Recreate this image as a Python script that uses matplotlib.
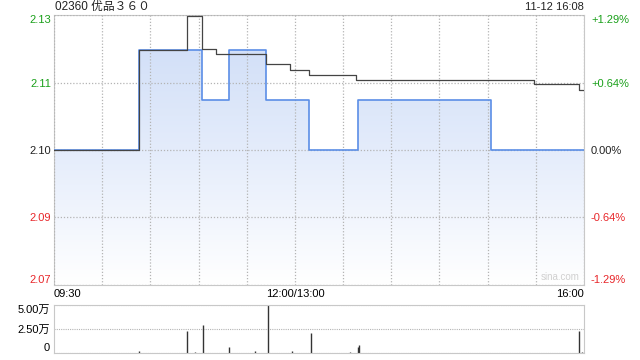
import numpy as np
import matplotlib
matplotlib.use("Agg")
import matplotlib.pyplot as plt
from matplotlib.colors import LinearSegmentedColormap

plt.rcParams['font.family'] = ['Liberation Sans', 'Noto Sans CJK SC', 'DejaVu Sans']

# minutes since 09:30 (lunch break removed), 330 = 16:00
prev_close = 2.10
price_times = [0, 53, 92, 109, 132, 159, 189, 272, 330]
price_vals = [2.10, 2.12, 2.11, 2.12, 2.11, 2.10, 2.11, 2.10, 2.10]
avg_times = [0, 53, 83, 92, 101, 132, 147, 159, 188, 299, 327, 330]
avg_vals = [2.10, 2.1201, 2.1269, 2.1202, 2.1192, 2.1172, 2.1160, 2.1151, 2.1140, 2.1132, 2.1120, 2.1120]
vol_times = [53, 83, 88, 93, 109, 125, 133, 148, 160, 184, 189, 190, 327, 329]
vol_vals = [2000, 22900, 1000, 29500, 6600, 2400, 50000, 2000, 21000, 1000, 6600, 8700, 22900, 1000]

pct_ticks = [-1.29, -0.64, 0.0, 0.64, 1.29]
left_labels = ['2.07', '2.09', '2.10', '2.11', '2.13']
right_labels = ['-1.29%', '-0.64%', '0.00%', '+0.64%', '+1.29%']
tick_colors = ['#e8262a', '#e8262a', '#222222', '#1aa01a', '#1aa01a']
x_labels = ['09:30', '', '', '', '', '12:00/13:00', '', '', '', '', '', '16:00']
vol_ticks = [0, 25000, 50000]
vol_labels = ['0', '2.50万', '5.00万']

grid_c = '#c8c8c8'
fig = plt.figure(figsize=(6.4, 3.6), dpi=100)
ax = fig.add_axes([54/640, 75/360, 530/640, 270/360])

ymin = prev_close * (1 + pct_ticks[0] / 100)
ymax = prev_close * (1 + pct_ticks[-1] / 100)

# gradient fill under price line
poly = ax.fill_between(price_times, price_vals, ymin, step='post', color='none', lw=0)
cmap = LinearSegmentedColormap.from_list('g', ['#ffffff', '#e4ecfb', '#cddcf7'])
grad = np.linspace(0, 1, 256).reshape(-1, 1)
im = ax.imshow(grad, extent=[0, 330, ymin, ymax], origin='lower', aspect='auto', cmap=cmap, zorder=1)
im.set_clip_path(poly.get_paths()[0], transform=ax.transData)

ax.step(price_times, price_vals, where='post', color='#5b8ee6', lw=1.2, zorder=3)
ax.step(avg_times, avg_vals, where='post', color='#444444', lw=0.9, zorder=4)

ax.set_xlim(0, 330)
ax.set_ylim(ymin, ymax)
yt = [prev_close * (1 + p / 100) for p in pct_ticks]
ax.set_yticks(yt, left_labels)
ax.set_xticks(np.arange(0, 331, 30), x_labels)
ax.tick_params(length=0, labelsize=8, pad=3)
ax.tick_params(axis='y', pad=2)
for lab, c in zip(ax.get_yticklabels(), tick_colors):
    lab.set_color(c)
ax.get_yticklabels()[0].set_va('bottom')
ax.get_yticklabels()[-1].set_va('top')
ax.get_xticklabels()[0].set_ha('left')
ax.get_xticklabels()[-1].set_ha('right')
ax.set_axisbelow(False)
ax.grid(True, color='#b4b4b4', ls=(0, (1, 1.5)), lw=0.9)
for s in ax.spines.values():
    s.set_color(grid_c)

ax2 = ax.twinx()
ax2.set_ylim(ymin, ymax)
ax2.set_yticks(yt, right_labels)
ax2.tick_params(length=0, labelsize=8, pad=5)
for lab, c in zip(ax2.get_yticklabels(), tick_colors):
    lab.set_color(c)
ax2.get_yticklabels()[0].set_va('bottom')
ax2.get_yticklabels()[-1].set_va('top')
for s in ax2.spines.values():
    s.set_visible(False)

ax.text(0.955, 0.012, 'sina.com', transform=ax.transAxes, ha='center', va='bottom',
        fontsize=7, color='#d0d0d0')
fig.text(55/640, 1 - 7/360, '02360 优品３６０', ha='left', va='center', fontsize=8.5, color='#222222')
fig.text(584/640, 1 - 7/360, '11-12 16:08', ha='right', va='center', fontsize=8, color='#222222')

# volume panel
axv = fig.add_axes([54/640, 7/360, 530/640, 48/360])
axv.vlines(vol_times, 0, vol_vals, color='#333333', lw=1)
axv.set_xlim(0, 330)
axv.set_ylim(0, 50000)
axv.set_xticks([])
axv.set_yticks(vol_ticks, vol_labels)
axv.tick_params(length=0, labelsize=8, pad=3)
axv.get_yticklabels()[0].set_va('bottom')
axv.get_yticklabels()[-1].set_va('top')
axv.grid(True, axis='y', color='#b4b4b4', ls=(0, (1, 1)), lw=0.8)
for k, s in axv.spines.items():
    s.set_color(grid_c)
axv.spines['top'].set_linestyle((0, (1, 1)))

fig.savefig('out.png', dpi=100)
